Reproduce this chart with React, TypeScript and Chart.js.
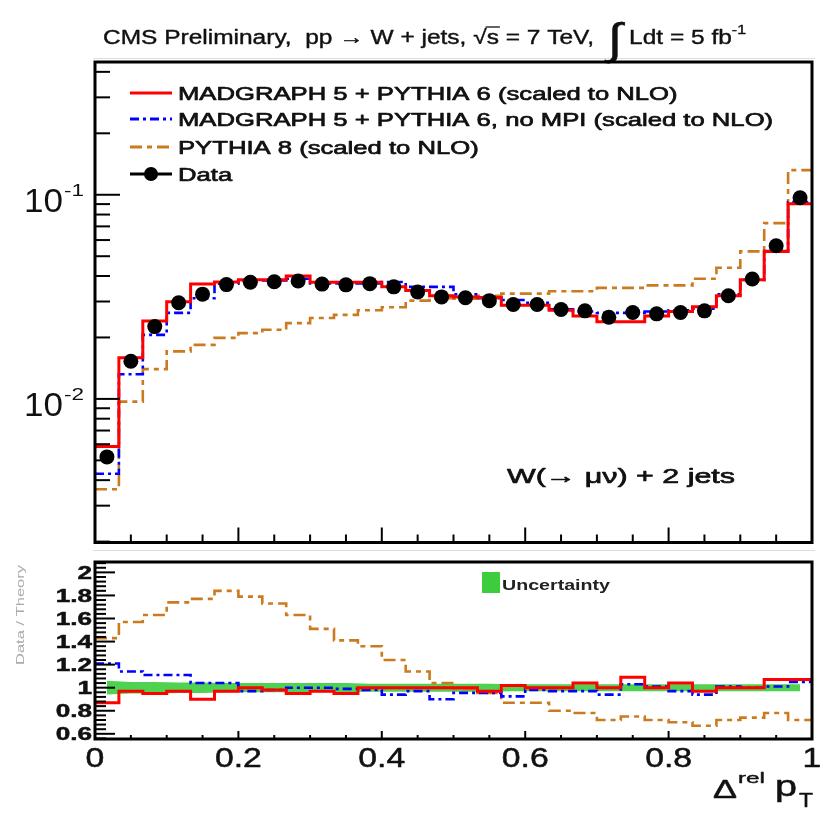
import React, { useEffect, useRef } from "react";
import { Chart, registerables } from "chart.js";
Chart.register(...registerables);

// ---------------- data ----------------
const nBins = 30;
const xMin = 0;
const xMax = 1;

const dataVals = [0.0052, 0.0153, 0.0226, 0.0296, 0.0326, 0.0363, 0.0373, 0.0375, 0.0378, 0.0365, 0.0362, 0.0367, 0.0354, 0.0334, 0.0316, 0.0313, 0.0303, 0.029, 0.029, 0.0274, 0.027, 0.0251, 0.0265, 0.0261, 0.0265, 0.027, 0.032, 0.0387, 0.0563, 0.0967];
const mgP6 = [0.00585, 0.0159, 0.0241, 0.0299, 0.0365, 0.0374, 0.0383, 0.0383, 0.04, 0.0373, 0.0373, 0.0373, 0.0354, 0.034, 0.032, 0.0316, 0.0314, 0.0288, 0.0288, 0.0272, 0.0255, 0.0239, 0.0239, 0.0255, 0.0268, 0.0283, 0.032, 0.0383, 0.0528, 0.0904];
const mgP6noMPI = [0.0043, 0.0132, 0.0206, 0.0264, 0.0311, 0.0367, 0.038, 0.038, 0.0388, 0.0368, 0.0368, 0.0368, 0.0374, 0.0354, 0.0354, 0.0325, 0.0311, 0.0305, 0.0296, 0.0275, 0.0268, 0.0264, 0.0264, 0.0268, 0.0272, 0.0277, 0.0325, 0.0383, 0.053, 0.092];
const pythia8 = [0.00361, 0.0097, 0.014, 0.0171, 0.0184, 0.0199, 0.021, 0.0218, 0.0235, 0.0249, 0.0258, 0.0272, 0.0281, 0.0303, 0.0311, 0.031, 0.032, 0.0328, 0.0328, 0.0337, 0.0337, 0.035, 0.035, 0.036, 0.036, 0.0388, 0.0439, 0.0528, 0.0726, 0.132];

const ratioMgP6 = [0.87, 0.97, 0.95, 0.97, 0.9, 0.97, 1.0, 0.98, 0.95, 0.97, 0.95, 1.0, 1.0, 1.0, 1.0, 1.0, 0.97, 1.02, 1.0, 1.0, 1.04, 1.0, 1.09, 1.0, 1.04, 0.97, 1.0, 1.0, 1.07, 1.07];
const ratioMgP6noMPI = [1.21, 1.14, 1.11, 1.11, 1.04, 1.04, 0.97, 0.98, 1.0, 1.0, 0.99, 0.98, 0.94, 0.97, 0.9, 0.955, 0.955, 0.925, 0.98, 0.97, 0.97, 0.94, 1.03, 1.01, 0.97, 0.94, 1.01, 1.0, 1.01, 1.05];
const ratioPythia8 = [1.43, 1.57, 1.63, 1.74, 1.77, 1.84, 1.79, 1.73, 1.63, 1.51, 1.41, 1.36, 1.24, 1.14, 1.04, 0.99, 0.955, 0.87, 0.87, 0.8, 0.78, 0.72, 0.75, 0.72, 0.7, 0.67, 0.72, 0.74, 0.78, 0.72];
const uncLow = [0.94, 0.95, 0.95, 0.955, 0.955, 0.96, 0.96, 0.96, 0.96, 0.96, 0.96, 0.965, 0.965, 0.965, 0.965, 0.965, 0.965, 0.97, 0.97, 0.97, 0.97, 0.97, 0.97, 0.97, 0.97, 0.97, 0.97, 0.97, 0.97, 0.97];
const uncHigh = [1.06, 1.05, 1.05, 1.045, 1.045, 1.04, 1.04, 1.04, 1.04, 1.04, 1.04, 1.035, 1.035, 1.035, 1.035, 1.035, 1.035, 1.03, 1.03, 1.03, 1.03, 1.03, 1.03, 1.03, 1.03, 1.03, 1.03, 1.03, 1.03, 1.03];

const xTickLabels = ["0", "0.2", "0.4", "0.6", "0.8", "1"];
const xTickValues = [0, 0.2, 0.4, 0.6, 0.8, 1];
const ratioTickLabels = ["0.6", "0.8", "1", "1.2", "1.4", "1.6", "1.8", "2"];
const ratioTickValues = [0.6, 0.8, 1, 1.2, 1.4, 1.6, 1.8, 2];
const logTickLabels = [{ base: "10", exp: "-1", v: 0.1 }, { base: "10", exp: "-2", v: 0.01 }];

const legendLabels = [
  "MADGRAPH 5 + PYTHIA 6 (scaled to NLO)",
  "MADGRAPH 5 + PYTHIA 6, no MPI (scaled to NLO)",
  "PYTHIA 8 (scaled to NLO)",
  "Data",
];

// ---------------- helpers ----------------
const binW = (xMax - xMin) / nBins;
const edges = Array.from({ length: nBins + 1 }, (_, i) => xMin + i * binW);
const centers = Array.from({ length: nBins }, (_, i) => xMin + (i + 0.5) * binW);
const histPts = (vals: number[]) => {
  const pts = vals.map((v, i) => ({ x: edges[i], y: v }));
  pts.push({ x: edges[nBins], y: vals[nBins - 1] });
  return pts;
};

const RED = "#ff0000";
const BLUE = "#0000ff";
const ORANGE = "#cc7a1f";
const GREEN = "rgba(60,205,60,0.9)";
const FONT = '"Liberation Sans", Arial, Helvetica, sans-serif';

function txt(ctx: CanvasRenderingContext2D, s: string, x: number, y: number, size: number, o: any = {}) {
  ctx.save();
  ctx.font = `${o.bold ? "bold " : ""}${size}px ${FONT}`;
  ctx.fillStyle = o.color || "#000";
  ctx.textBaseline = "alphabetic";
  const w = ctx.measureText(s).width;
  let sx = o.sx ?? 1;
  if (o.width) sx = o.width / w;
  const dw = w * sx;
  let x0 = x;
  if (o.align === "center") x0 = x - dw / 2;
  else if (o.align === "right") x0 = x - dw;
  ctx.translate(x0, y);
  ctx.scale(sx, 1);
  ctx.fillText(s, 0, 0);
  if (o.stroke) {
    ctx.strokeStyle = o.color || "#000";
    ctx.lineWidth = o.stroke;
    ctx.lineJoin = "round";
    ctx.strokeText(s, 0, 0);
  }
  ctx.restore();
  return dw;
}

function xTicks(ctx: CanvasRenderingContext2D, xs: any, bottom: number, major: number, minor: number) {
  ctx.save();
  ctx.strokeStyle = "#000";
  ctx.lineWidth = 2;
  for (let i = 0; i <= 20; i++) {
    const v = i * 0.05;
    const px = xs.getPixelForValue(v);
    const len = i % 4 === 0 ? major : minor;
    ctx.beginPath();
    ctx.moveTo(px, bottom);
    ctx.lineTo(px, bottom - len);
    ctx.stroke();
  }
  ctx.restore();
}

const topPlugin = {
  id: "topDeco",
  afterDraw(chart: any) {
    const { ctx, chartArea: a, scales } = chart;
    const xs = scales.x, ys = scales.y;
    ctx.save();
    // pad separator
    ctx.strokeStyle = "#dddddd";
    ctx.lineWidth = 1;
    ctx.beginPath();
    ctx.moveTo(93, 58.5);
    ctx.lineTo(815, 58.5);
    ctx.stroke();

    // title
    const segs = [
      { t: "CMS Preliminary,  pp \u2192 W + jets, ", size: 20, dy: 0 },
      { t: "\u221As", size: 20, dy: 0, over: true },
      { t: " = 7 TeV,  ", size: 20, dy: 0 },
      { t: "\u222B", size: 44, dy: 10 },
      { t: " Ldt = 5 fb", size: 20, dy: 0 },
      { t: "-1", size: 13, dy: -10 },
    ];
    let tot = 0;
    for (const s of segs) {
      ctx.font = `${s.size}px ${FONT}`;
      tot += ctx.measureText(s.t).width;
    }
    const sx = (746 - 103) / tot;
    let cx = 103;
    const base = 44;
    for (const s of segs) {
      const w = txt(ctx, s.t, cx, base + s.dy, s.size, { sx, stroke: 0.4, color: "#111" });
      if (s.over) {
        ctx.font = `${s.size}px ${FONT}`;
        const rw = ctx.measureText("\u221A").width * sx;
        ctx.strokeStyle = "#111";
        ctx.lineWidth = 1.3;
        ctx.beginPath();
        ctx.moveTo(cx + rw - 1, base - 17);
        ctx.lineTo(cx + w + 1, base - 17);
        ctx.stroke();
      }
      cx += w;
    }

    // frame
    ctx.strokeStyle = "#000";
    ctx.lineWidth = 3;
    ctx.strokeRect(a.left, a.top, a.right - a.left, a.bottom - a.top);

    // x ticks
    xTicks(ctx, xs, a.bottom, 15, 8);

    // y log ticks
    ctx.lineWidth = 2;
    for (let k = -3; k <= 0; k++) {
      for (let m = 1; m <= 9; m++) {
        const v = m * Math.pow(10, k);
        if (v < ys.min || v > ys.max) continue;
        const py = ys.getPixelForValue(v);
        const len = m === 1 ? 25 : 15;
        ctx.beginPath();
        ctx.moveTo(a.left, py);
        ctx.lineTo(a.left + len, py);
        ctx.stroke();
      }
    }
    // y labels
    for (const l of logTickLabels) {
      const py = ys.getPixelForValue(l.v);
      txt(ctx, l.base, 24, py + 17, 34, { width: 39, color: "#111" });
      txt(ctx, l.exp, 64, py + 1, 17, { width: 20, color: "#111" });
    }

    // legend
    const rows = [93, 119, 147, 174];
    const styles = [
      { c: RED, d: [] as number[] },
      { c: BLUE, d: [9, 4, 3, 4] },
      { c: ORANGE, d: [12, 5, 5, 5] },
    ];
    for (let i = 0; i < 3; i++) {
      ctx.strokeStyle = styles[i].c;
      ctx.lineWidth = 3;
      ctx.setLineDash(styles[i].d);
      ctx.beginPath();
      ctx.moveTo(130, rows[i]);
      ctx.lineTo(172, rows[i]);
      ctx.stroke();
    }
    ctx.setLineDash([]);
    ctx.strokeStyle = "#000";
    ctx.beginPath();
    ctx.moveTo(130, rows[3]);
    ctx.lineTo(172, rows[3]);
    ctx.stroke();
    ctx.fillStyle = "#000";
    ctx.beginPath();
    ctx.arc(151, rows[3], 7, 0, Math.PI * 2);
    ctx.fill();
    for (let i = 0; i < 4; i++) {
      txt(ctx, legendLabels[i], 178, rows[i] + 7, 19, { sx: 1.35, color: "#111", stroke: 0.7 });
    }

    // process label
    txt(ctx, "W(\u2192 \u03BC\u03BD) + 2 jets", 507, 483, 21, { width: 228, stroke: 0.7, color: "#111" });
    ctx.restore();
  },
};

const botPlugin = {
  id: "botDeco",
  afterDraw(chart: any) {
    const { ctx, chartArea: a, scales } = chart;
    const xs = scales.x, ys = scales.y;
    ctx.save();
    ctx.strokeStyle = "#dddddd";
    ctx.lineWidth = 1;
    ctx.beginPath();
    ctx.moveTo(93, 0.5);
    ctx.lineTo(815, 0.5);
    ctx.stroke();

    ctx.strokeStyle = "#000";
    ctx.lineWidth = 3;
    ctx.strokeRect(a.left, a.top, a.right - a.left, a.bottom - a.top);

    xTicks(ctx, xs, a.bottom, 8, 4);

    // y ticks
    ctx.lineWidth = 2;
    for (let i = 14; i <= 52; i++) {
      const v = i * 0.04;
      if (v < ys.min || v > ys.max) continue;
      const py = ys.getPixelForValue(v);
      const len = i % 5 === 0 ? 20 : 11;
      ctx.beginPath();
      ctx.moveTo(a.left, py);
      ctx.lineTo(a.left + len, py);
      ctx.stroke();
    }
    ratioTickValues.forEach((v, i) => {
      const py = ys.getPixelForValue(v);
      txt(ctx, ratioTickLabels[i], 92, py + 6.5, 18, { bold: true, sx: 1.45, align: "right", color: "#111", stroke: 0.5 });
    });

    // x labels
    xTickValues.forEach((v, i) => {
      const px = xs.getPixelForValue(v);
      txt(ctx, xTickLabels[i], px, 217, 27, { sx: 1.25, align: "center", color: "#111", stroke: 0.5 });
    });

    // axis title  Δ^rel p_T
    txt(ctx, "\u0394", 713, 248, 25, { width: 24, stroke: 0.5, color: "#111" });
    txt(ctx, "rel", 738, 233, 15, { width: 27, stroke: 0.4, color: "#111" });
    txt(ctx, "p", 775, 246, 29, { width: 22, stroke: 0.5, color: "#111" });
    txt(ctx, "T", 799, 257, 20, { width: 14, stroke: 0.5, color: "#111" });

    // uncertainty legend
    ctx.fillStyle = "rgb(60,205,60)";
    ctx.fillRect(482, 22, 18, 21);
    txt(ctx, "Uncertainty", 502, 40, 14, { bold: true, width: 108, color: "#222" });

    // faint y title
    ctx.translate(24, 65);
    ctx.rotate(-Math.PI / 2);
    txt(ctx, "Data / Theory", 0, 0, 10, { width: 100, align: "center", color: "#aaaaaa" });
    ctx.restore();
  },
};

export default function App() {
  const topRef = useRef<HTMLCanvasElement>(null);
  const botRef = useRef<HTMLCanvasElement>(null);

  useEffect(() => {
    const histDs = (label: string, vals: number[], color: string, dash: number[], order: number, width = 3) => ({
      label,
      data: histPts(vals),
      borderColor: color,
      borderWidth: width,
      borderDash: dash,
      stepped: true,
      pointRadius: 0,
      fill: false,
      order,
    });

    const common: any = {
      responsive: false,
      animation: false,
      events: [],
      plugins: { legend: { display: false }, tooltip: { enabled: false } },
    };

    const top = new Chart(topRef.current as HTMLCanvasElement, {
      type: "line",
      data: {
        datasets: [
          {
            label: "Data",
            data: centers.map((c, i) => ({ x: c, y: dataVals[i] })),
            showLine: false,
            pointRadius: 7.5,
            pointBackgroundColor: "#000",
            pointBorderColor: "#000",
            pointBorderWidth: 0,
            order: 0,
          } as any,
          histDs(legendLabels[0], mgP6, RED, [], 1),
          histDs(legendLabels[1], mgP6noMPI, BLUE, [9, 4, 3, 4], 2, 2.6),
          histDs(legendLabels[2], pythia8, ORANGE, [12, 5, 5, 5], 3, 2.6),
        ],
      },
      options: {
        ...common,
        layout: { padding: { left: 95, right: 11, top: 62, bottom: 2 } },
        scales: {
          x: { type: "linear", min: xMin, max: xMax, display: false },
          y: { type: "logarithmic", min: 0.00198, max: 0.447, display: false },
        },
      },
      plugins: [topPlugin],
    });

    const bot = new Chart(botRef.current as HTMLCanvasElement, {
      type: "line",
      data: {
        datasets: [
          {
            label: "uncLow",
            data: centers.map((c, i) => ({ x: c, y: uncLow[i] })),
            borderWidth: 0,
            borderColor: "rgba(0,0,0,0)",
            pointRadius: 0,
            fill: false,
            order: 5,
          } as any,
          {
            label: "Uncertainty",
            data: centers.map((c, i) => ({ x: c, y: uncHigh[i] })),
            borderWidth: 0,
            borderColor: "rgba(0,0,0,0)",
            backgroundColor: GREEN,
            pointRadius: 0,
            fill: "-1",
            order: 4,
          },
          histDs("ratio P8", ratioPythia8, ORANGE, [12, 5, 5, 5], 3, 2.6),
          histDs("ratio noMPI", ratioMgP6noMPI, BLUE, [9, 4, 3, 4], 2, 2.6),
          histDs("ratio MG", ratioMgP6, RED, [], 1),
        ],
      },
      options: {
        ...common,
        layout: { padding: { left: 95, right: 11, top: 12, bottom: 74 } },
        scales: {
          x: { type: "linear", min: xMin, max: xMax, display: false },
          y: { type: "linear", min: 0.555, max: 2.09, display: false },
        },
      },
      plugins: [botPlugin],
    });

    return () => {
      top.destroy();
      bot.destroy();
    };
  }, []);

  return (
    <div style={{ position: "fixed", left: 0, top: 0, width: 823, height: 813, background: "#fff", overflow: "hidden" }}>
      <canvas ref={topRef} width={823} height={550} style={{ position: "absolute", left: 0, top: 0, width: 823, height: 550 }} />
      <canvas ref={botRef} width={823} height={263} style={{ position: "absolute", left: 0, top: 550, width: 823, height: 263 }} />
    </div>
  );
}
